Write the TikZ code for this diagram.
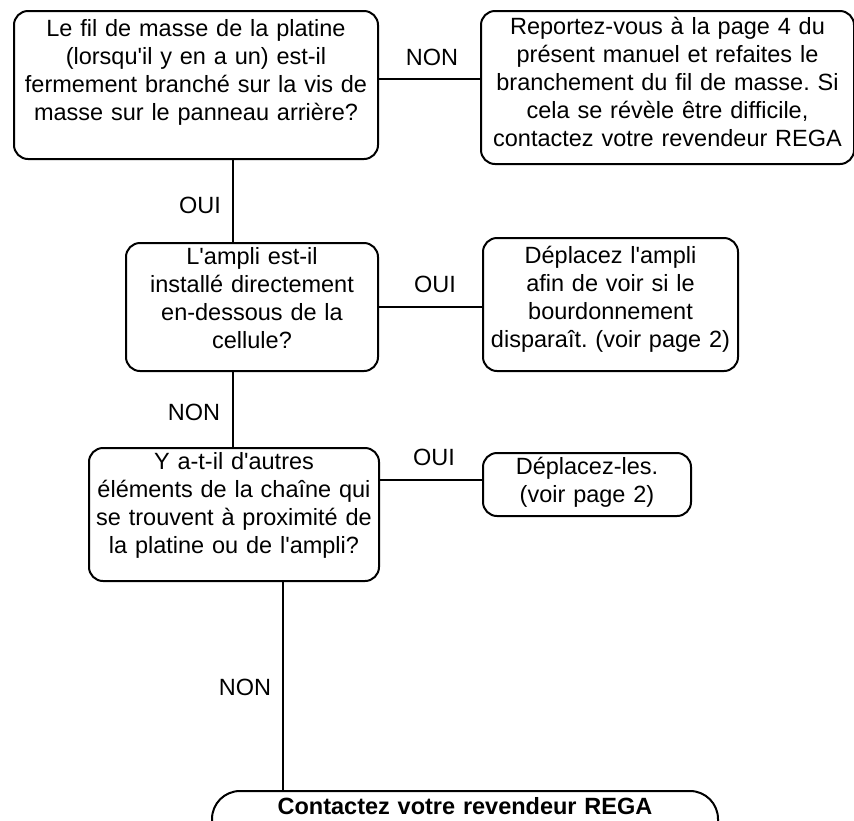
\documentclass[tikz,border=0pt]{standalone}
\usepackage{fontspec}
\setmainfont{Liberation Sans}[Ligatures=TeXOff]
\frenchspacing

\newcommand{\qfont}{\fontsize{23.5}{28}\selectfont}
\tikzset{
  qbox/.style={draw, line width=2pt, rounded corners=14pt, anchor=north west,
    align=center, inner sep=0pt, font=\qfont},
  lbl/.style={anchor=base, inner sep=0pt, font=\qfont},
  link/.style={line width=2pt}
}

\begin{document}
\begin{tikzpicture}[x=1pt, y=-1pt]
  \useasboundingbox (0,0) rectangle (854,820);
  \clip (0,0) rectangle (854,820);

  % boxes
  \node[qbox, text width=364pt, text height=25pt, text depth=123pt] (fil) at (13,10)
    {Le fil de masse de la platine\\(lorsqu'il y en a un) est-il\\fermement branché sur la vis de\\masse sur le panneau arrière?};
  \node[qbox, text width=373pt, text height=23pt, text depth=130pt] (report) at (480,10)
    {Reportez-vous à la page 4 du\\présent manuel et refaites le\\branchement du fil de masse. Si\\cela se révèle être difficile,\\contactez votre revendeur REGA};
  \node[qbox, text width=252pt, text height=21pt, text depth=107pt] (ampli) at (125,242)
    {L'ampli est-il\\installé directement\\en-dessous de la\\cellule?};
  \node[qbox, text width=255pt, text height=25pt, text depth=108pt] (move) at (482,237)
    {Déplacez l'ampli\\afin de voir si le\\bourdonnement\\disparaît. (voir page 2)};
  \node[qbox, text width=290pt, text height=21pt, text depth=112pt] (others) at (88,447)
    {Y a-t-il d'autres\\éléments de la chaîne qui\\se trouvent à proximité de\\la platine ou de l'ampli?};
  \node[qbox, text width=208pt, text height=21pt, text depth=42pt] (movethem) at (482,452)
    {Déplacez-les.\\(voir page 2)};
  \node[qbox, anchor=north, rounded corners=28pt, text width=506pt, text height=23pt,
    text depth=37pt, font=\qfont\bfseries] (dealer) at (465,790)
    {Contactez votre revendeur REGA};

  % connectors
  \coordinate (v1) at (233,0);
  \coordinate (v3) at (283,0);
  \coordinate (h1) at (0,79);
  \coordinate (h2) at (0,307);
  \coordinate (h3) at (0,480);
  \draw[link] (fil.east |- h1) -- (report.west |- h1);
  \draw[link] (fil.south -| v1) -- (ampli.north -| v1);
  \draw[link] (ampli.east |- h2) -- (move.west |- h2);
  \draw[link] (ampli.south -| v1) -- (others.north -| v1);
  \draw[link] (others.east |- h3) -- (movethem.west |- h3);
  \draw[link] (others.south -| v3) -- (dealer.north -| v3);

  % answers
  \node[lbl] (non1) at (432,65) {NON};
  \node[lbl] (oui1) at (200,213) {OUI};
  \node[lbl] (oui2) at (435,292) {OUI};
  \node[lbl] (non2) at (194,420) {NON};
  \node[lbl] (oui3) at (434,465) {OUI};
  \node[lbl] (non3) at (245,695) {NON};
\end{tikzpicture}
\end{document}
